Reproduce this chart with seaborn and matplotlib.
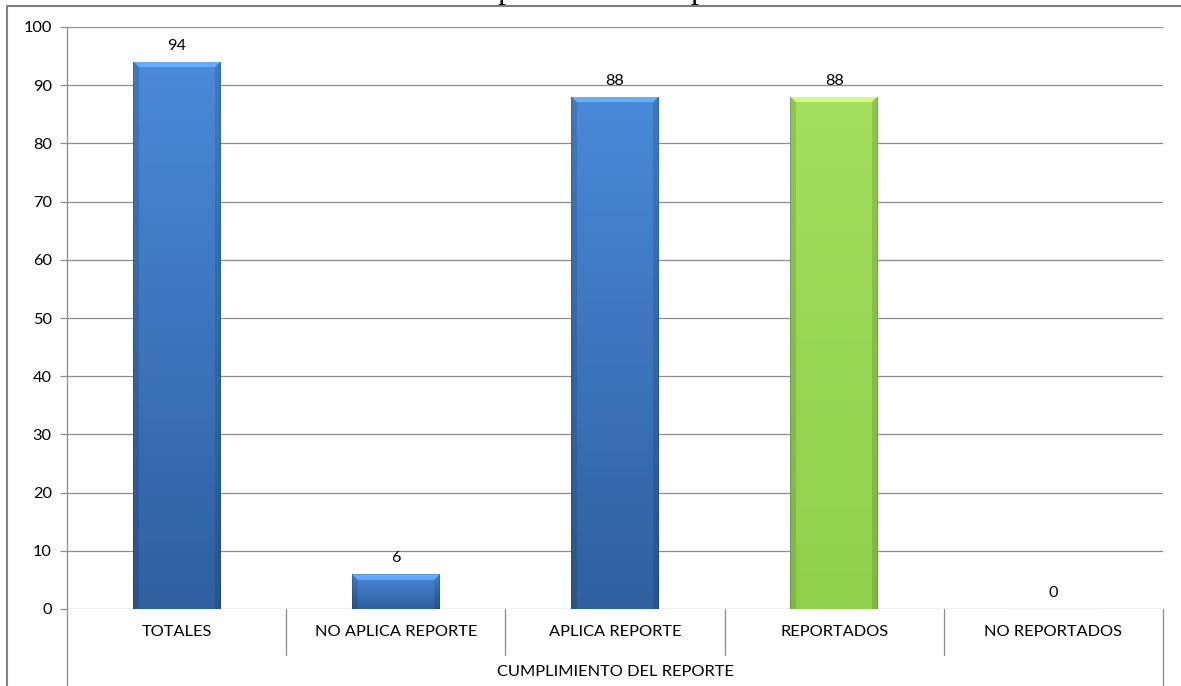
import numpy as np
import pandas as pd
import matplotlib
matplotlib.use("Agg")
import matplotlib.pyplot as plt
from matplotlib.lines import Line2D
from matplotlib.transforms import blended_transform_factory
import seaborn as sns

categories = ["TOTALES", "NO APLICA REPORTE", "APLICA REPORTE", "REPORTADOS", "NO REPORTADOS"]
values = [94, 6, 88, 88, 0]
group_label = "CUMPLIMIENTO DEL REPORTE"
title = "Cumplimiento del reporte"
y_ticks = list(range(0, 101, 10))

blue = ("#4a8ad9", "#2f5f9f")
green = ("#a2df5e", "#8fd04c")
bar_colors = [blue, blue, blue, green, blue]

sns.set_theme(style="white")
plt.rcParams["font.family"] = ["Lato", "DejaVu Sans"]

FS = 11.8

fig = plt.figure(figsize=(11.81, 6.86), dpi=100)
ax = fig.add_axes([67 / 1181, 1 - 609 / 686, (1163 - 67) / 1181, (609 - 27) / 686])

df = pd.DataFrame({"cat": categories, "val": values})
sns.barplot(data=df, x="cat", y="val", ax=ax, width=0.4,
            palette=[c[0] for c in bar_colors], hue="cat", legend=False,
            saturation=1, zorder=3)

ax.set_ylim(0, 100)
ax.set_xlim(-0.5, len(categories) - 0.5)
ax.set_yticks(y_ticks)
ax.set_yticklabels([str(t) for t in y_ticks], fontsize=FS, color="#000000")
ax.tick_params(axis="y", length=5, width=0.9, color="#8c8c8c", left=True, pad=6)
ax.set_xticks([])
ax.set_xlabel("")
ax.set_ylabel("")
ax.yaxis.grid(True, color="#8c8c8c", linewidth=0.9, zorder=0)
ax.set_axisbelow(True)
for s in ["top", "right", "bottom"]:
    ax.spines[s].set_visible(False)
ax.spines["left"].set_color("#8c8c8c")
ax.spines["left"].set_linewidth(0.9)


def shaded_bar(ax, patch, colors):
    # vertical gradient with a soft bevel on the edges of each bar
    x0, y0 = patch.get_x(), patch.get_y()
    w, h = patch.get_width(), patch.get_height()
    if h <= 0:
        return
    p0 = ax.transData.transform((x0, y0))
    p1 = ax.transData.transform((x0 + w, y0 + h))
    wp = max(int(round(p1[0] - p0[0])), 2)
    hp = max(int(round(p1[1] - p0[1])), 2)
    top = np.array(matplotlib.colors.to_rgb(colors[0]))
    bot = np.array(matplotlib.colors.to_rgb(colors[1]))
    t = np.linspace(0, 1, hp)[:, None, None]
    img = top * (1 - t) + bot * t
    img = np.repeat(img, wp, axis=1)
    xs = np.arange(wp)[None, :]
    ys = np.arange(hp)[:, None]
    bev = 6
    edge = np.minimum(xs, wp - 1 - xs)
    side = (edge < bev) & (ys >= np.minimum(edge, bev))
    img[side] *= 0.88
    topband = (ys < bev) & (ys <= edge)
    img[topband] = np.clip(img[topband] * 1.15 + 0.06, 0, 1)
    img[:, [0, -1]] *= 0.85
    img[0, :] *= 0.9
    im = ax.imshow(img, extent=(x0, x0 + w, y0, y0 + h), aspect="auto",
                   origin="upper", zorder=4, interpolation="bilinear")
    im.set_clip_path(patch)
    patch.set_edgecolor("none")


for patch, cols in zip(ax.patches, bar_colors):
    shaded_bar(ax, patch, cols)

ax.set_xlim(-0.5, len(categories) - 0.5)
ax.set_ylim(0, 100)

for i, v in enumerate(values):
    ax.annotate(str(v), (i, v), xytext=(0, 6.5), textcoords="offset points",
                ha="center", va="bottom", fontsize=FS, color="#000000")

# category table under the plot
tr = blended_transform_factory(ax.transData, ax.transAxes)
grid_c = "#8c8c8c"
n = len(categories)
for i, name in enumerate(categories):
    ax.text(i, -0.0395, name, transform=tr, ha="center", va="center",
            fontsize=FS, color="#000000")
for b in np.arange(0.5, n - 0.5, 1.0):
    ax.add_line(Line2D([b, b], [0, -0.079], transform=tr, color=grid_c,
                       linewidth=0.9, clip_on=False))
ax.add_line(Line2D([n - 0.5, n - 0.5], [0, -0.14], transform=tr, color=grid_c,
                   linewidth=0.9, clip_on=False))
ax.add_line(Line2D([-0.5, -0.5], [0, -0.14], transform=tr, color=grid_c,
                   linewidth=0.9, clip_on=False))
ax.text((n - 1) / 2, -0.108, group_label, transform=tr, ha="center", va="center",
        fontsize=FS, color="#000000")

# outer frame lines on the top and left edge
fig.add_artist(Line2D([7 / 1181, 1], [1 - 6 / 686, 1 - 6 / 686], transform=fig.transFigure,
                      color="#7f7f7f", linewidth=1.5))
fig.add_artist(Line2D([7 / 1181, 7 / 1181], [0, 1 - 6 / 686], transform=fig.transFigure,
                      color="#7f7f7f", linewidth=1.5))

fig.text(596 / 1181, 1 + 1.6 / 686, title, ha="center", va="baseline",
         fontsize=22, family=["Liberation Serif"], color="#000000")

fig.savefig("out.png", dpi=100)
